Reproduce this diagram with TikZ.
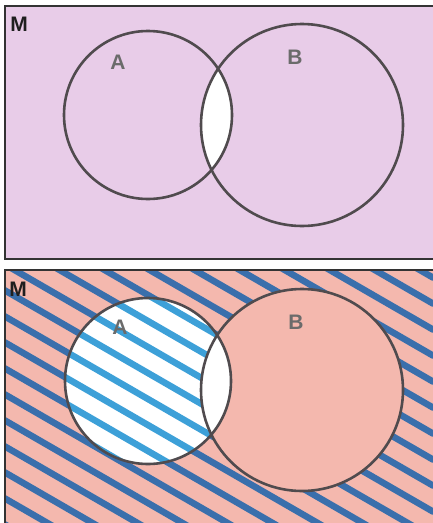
\documentclass[tikz,border=0pt]{standalone}
\usepackage{fontspec}
\setmainfont{Liberation Sans}
\definecolor{toppink}{RGB}{232,204,232}
\definecolor{botpink}{RGB}{244,184,174}
\definecolor{darkstripe}{RGB}{38,104,172}
\definecolor{lightstripe}{RGB}{40,150,212}
\definecolor{lineg}{RGB}{80,75,78}
\begin{document}
\begin{tikzpicture}[x=1pt,y=-1pt,
  panelline/.style={line width=2.4pt, draw=black!80},
  circ/.style={line width=2.6pt, draw=lineg},
  lbl/.style={font=\bfseries\fontsize{21}{21}\selectfont, text=black!58, inner sep=0pt},
  mlbl/.style={font=\bfseries\fontsize{21}{21}\selectfont, text=black!88, inner sep=0pt},
  stripeout/.style={line width=6.5pt, draw=darkstripe, line cap=round, opacity=0.9},
  stripein/.style={line width=6.5pt, draw=lightstripe, line cap=round, opacity=0.9}]
\useasboundingbox (0,0) rectangle (433,523);
\fill[white] (0,0) rectangle (433,523);
% ---------- top panel ----------
\fill[toppink] (5,6) rectangle (433,259);
\begin{scope}
  \clip (148,115) circle[radius=84pt];
  \fill[white] (302,125) circle[radius=101pt];
\end{scope}
\draw[circ] (148,115) circle[radius=84pt];
\draw[circ] (302,125) circle[radius=101pt];
\draw[panelline] (433,6) -- (5,6) -- (5,259) -- (433,259);
\node[mlbl] (m1) at (19,24) {M};
\node[lbl] (a1) at (118,62) {A};
\node[lbl] (b1) at (295,57) {B};
% ---------- bottom panel ----------
\begin{scope}
  \clip (5,270) rectangle (433,523);
  \fill[botpink] (5,270) rectangle (433,523);
  \foreach \k in {-20,...,12}{
    \pgfmathsetmacro\c{287.6+26*\k}
    \draw[stripeout] (0,\c) -- (433,\c+250);
  }
\end{scope}
\fill[white] (148,381) circle[radius=83pt];
\fill[botpink] (302,390) circle[radius=101pt];
\begin{scope}
  \clip (148,381) circle[radius=83pt];
  \foreach \k in {-20,...,12}{
    \pgfmathsetmacro\c{287.6+26*\k}
    \draw[stripein] (0,\c) -- (433,\c+250);
  }
  \fill[white] (302,390) circle[radius=101pt];
\end{scope}
\draw[circ] (148,381) circle[radius=83pt];
\draw[circ] (302,390) circle[radius=101pt];
\draw[panelline] (433,270) -- (5,270) -- (5,523);
\node[mlbl] (m2) at (18,289) {M};
\node[lbl] (a2) at (120,327) {A};
\node[lbl] (b2) at (296,322) {B};
\end{tikzpicture}
\end{document}
